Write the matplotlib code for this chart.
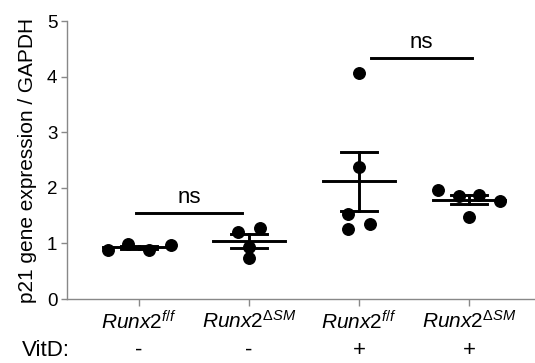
import numpy as np
import matplotlib
matplotlib.use("Agg")
import matplotlib.pyplot as plt
from matplotlib import transforms

plt.rcParams['font.family'] = ['Liberation Sans', 'DejaVu Sans']
plt.rcParams['mathtext.fontset'] = 'custom'
plt.rcParams['mathtext.rm'] = 'Liberation Sans'
plt.rcParams['mathtext.it'] = 'Liberation Sans:italic'
plt.rcParams['mathtext.bf'] = 'Liberation Sans:bold'

# Groups and per-animal values (p21 / GAPDH)
group_labels = [r'$\mathit{Runx2}^{\mathit{f/f}}$', r'$\mathit{Runx2}^{\Delta\mathit{SM}}$',
                r'$\mathit{Runx2}^{\mathit{f/f}}$', r'$\mathit{Runx2}^{\Delta\mathit{SM}}$']
vitd = ['-', '-', '+', '+']
values = [
    [0.88, 0.99, 0.88, 0.97],
    [1.21, 1.27, 0.94, 0.74],
    [4.06, 2.38, 1.53, 1.26, 1.35],
    [1.96, 1.86, 1.87, 1.77, 1.48],
]
# horizontal jitter of the dots within each group
jitter = [
    [-0.28, -0.10, 0.09, 0.29],
    [-0.10, 0.10, 0.0, 0.0],
    [0.0, 0.0, -0.10, -0.10, 0.10],
    [-0.285, -0.095, 0.095, 0.285, 0.0],
]
# significance brackets: (x start, x end, height, label)
sig_bars = [(-0.03, 0.94, 1.55, 'ns'), (2.11, 3.03, 4.34, 'ns')]

fig = plt.figure(figsize=(5.35, 3.63), dpi=100)
ax = fig.add_axes([67 / 535, 64 / 363, 468 / 535, 278 / 363])

xpos = np.arange(len(values))
for i, (vals, jit) in enumerate(zip(values, jitter)):
    v = np.array(vals)
    x = xpos[i] + np.array(jit)
    ax.plot(x, v, 'o', color='black', markersize=8.3, zorder=3, clip_on=False)
    m = v.mean()
    sem = v.std(ddof=1) / np.sqrt(len(v))
    ax.plot([xpos[i] - 0.33, xpos[i] + 0.33], [m, m], color='black', lw=2.1, zorder=4)
    ax.plot([xpos[i], xpos[i]], [m - sem, m + sem], color='black', lw=2.1, zorder=4)
    for yy in (m - sem, m + sem):
        ax.plot([xpos[i] - 0.165, xpos[i] + 0.165], [yy, yy], color='black', lw=2.1, zorder=4)

for x0, x1, h, lab in sig_bars:
    ax.plot([x0, x1], [h, h], color='black', lw=2.1)
    ax.text((x0 + x1) / 2, h + 0.17, lab, ha='center', va='baseline', fontsize=16)

ax.set_xlim(-72 / 110, (535 - 139) / 110)
ax.set_ylim(0, 5)
ax.set_yticks([0, 1, 2, 3, 4, 5])
ax.set_xticks(xpos)
ax.set_xticklabels(group_labels, fontsize=15)
ax.tick_params(axis='y', labelsize=13.5, length=4, width=1, color='#888888', pad=3)
ax.tick_params(axis='x', length=5, width=1, color='#888888', pad=3)
for s in ('top', 'right'):
    ax.spines[s].set_visible(False)
for s in ('left', 'bottom'):
    ax.spines[s].set_color('#888888')
    ax.spines[s].set_linewidth(1)
ax.set_ylabel('p21 gene expression / GAPDH', fontsize=15, labelpad=7)

trans = transforms.blended_transform_factory(ax.transData, fig.transFigure)
for i, t in enumerate(vitd):
    ax.text(xpos[i], 1 - 350 / 363, t, transform=trans, ha='center', va='center', fontsize=16)
fig.text(22 / 535, 1 - 350 / 363, 'VitD:', ha='left', va='center', fontsize=16)

fig.savefig('out.png', dpi=100)
